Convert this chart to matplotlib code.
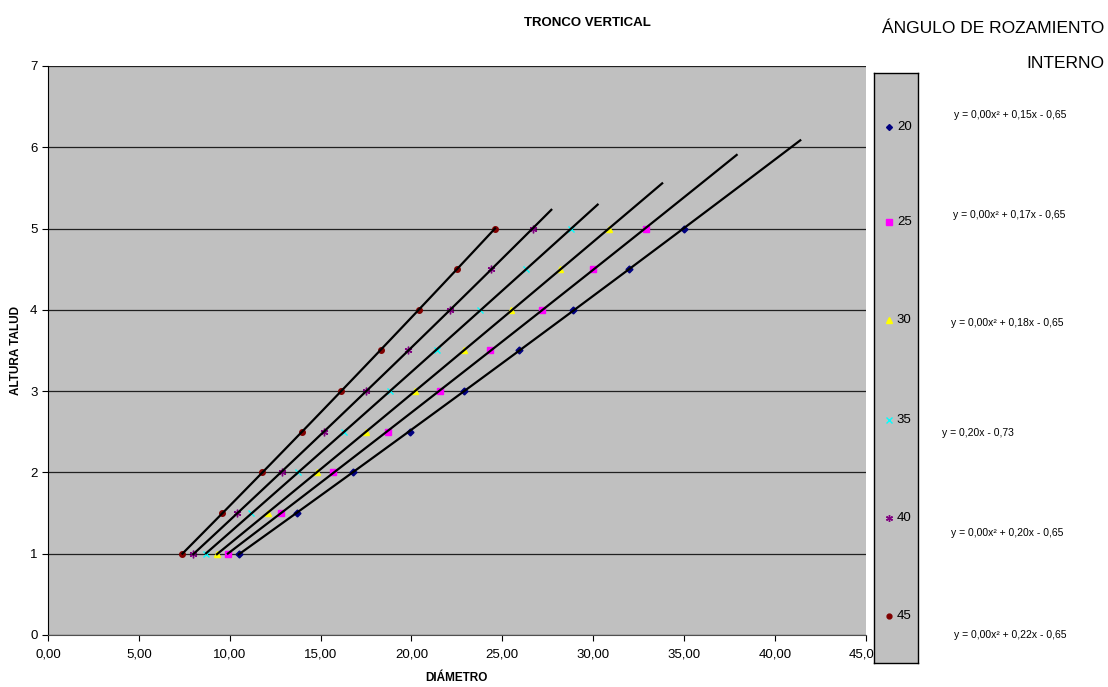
import numpy as np
import matplotlib
matplotlib.use("Agg")
import matplotlib.pyplot as plt

plt.rcParams['font.family'] = ['Liberation Sans', 'DejaVu Sans']

# data
altura = [1.0, 1.5, 2.0, 2.5, 3.0, 3.5, 4.0, 4.5, 5.0]
diam_20 = [10.5, 13.7, 16.8, 19.9, 22.9, 25.9, 28.9, 32.0, 35.0]
diam_25 = [9.9, 12.8, 15.7, 18.7, 21.6, 24.3, 27.2, 30.0, 32.9]
diam_30 = [9.3, 12.1, 14.8, 17.5, 20.2, 22.9, 25.5, 28.2, 30.9]
diam_35 = [8.7, 11.2, 13.75, 16.3, 18.8, 21.4, 23.8, 26.3, 28.8]
diam_40 = [8.0, 10.4, 12.9, 15.2, 17.5, 19.8, 22.1, 24.4, 26.7]
diam_45 = [7.4, 9.6, 11.8, 14.0, 16.1, 18.3, 20.4, 22.5, 24.6]
angulos = ['20', '25', '30', '35', '40', '45']
trend_end = [41.4, 37.9, 33.8, 30.25, 27.7, 24.6]
ecuaciones = ['y = 0,00x² + 0,15x - 0,65',
              'y = 0,00x² + 0,17x - 0,65',
              'y = 0,00x² + 0,18x - 0,65',
              'y = 0,20x - 0,73',
              'y = 0,00x² + 0,20x - 0,65',
              'y = 0,00x² + 0,22x - 0,65']
x_ticks = [0, 5, 10, 15, 20, 25, 30, 35, 40, 45]
x_labels = ['0,00', '5,00', '10,00', '15,00', '20,00', '25,00',
            '30,00', '35,00', '40,00', '45,00']

series = [diam_20, diam_25, diam_30, diam_35, diam_40, diam_45]
colors = ['#000080', '#FF00FF', '#FFFF00', '#00FFFF', '#800080', '#800000']
markers = ['D', 's', '^', 'x', (6, 2, 0), 'o']
msizes = [3.5, 4.5, 4.5, 4.5, 5.5, 4]

fig = plt.figure(figsize=(11.08, 6.87), dpi=100)
ax = fig.add_axes([0.0433, 0.0757, 0.738, 0.8283])
ax.set_facecolor('#C0C0C0')

for i, d in enumerate(series):
    ax.plot(d, altura, linestyle='none', marker=markers[i], color=colors[i],
            markersize=msizes[i], markeredgewidth=1.0, zorder=3)
    coef = np.polyfit(d, altura, 2)
    xs = np.linspace(min(d), trend_end[i], 100)
    ax.plot(xs, np.polyval(coef, xs), color='black', linewidth=1.6, zorder=4)

ax.set_xlim(0, 45)
ax.set_ylim(0, 7)
ax.set_xticks(x_ticks)
ax.set_xticklabels(x_labels)
ax.set_yticks(range(0, 8))
ax.yaxis.grid(True, color='#202020', linewidth=0.9)
ax.set_axisbelow(True)
ax.tick_params(labelsize=9.5, length=4, color='black')
ax.tick_params(axis='x', pad=6)
for s in ['top', 'right']:
    ax.spines[s].set_visible(False)
ax.spines['left'].set_color('black')
ax.spines['bottom'].set_color('#505050')

ax.set_xlabel('DIÁMETRO', fontsize=8.5, fontweight='bold', labelpad=8)
ax.set_ylabel('ALTURA TALUD', fontsize=8.5, fontweight='bold', labelpad=6)
fig.text(0.53, 0.966, 'TRONCO VERTICAL', fontsize=9.5, fontweight='bold',
         ha='center', va='center')
fig.text(0.896, 0.959, 'ÁNGULO DE ROZAMIENTO', fontsize=12.5,
         ha='center', va='center')
fig.text(0.997, 0.908, 'INTERNO', fontsize=12.5, ha='right', va='center')

# legend box
lax = fig.add_axes([0.7888, 0.0349, 0.0397, 0.8588])
lax.set_facecolor('#C0C0C0')
lax.set_xlim(0, 1)
lax.set_ylim(0, 1)
lax.set_xticks([])
lax.set_yticks([])
for s in lax.spines.values():
    s.set_color('black')
    s.set_linewidth(1.0)
ly = [0.908, 0.747, 0.581, 0.412, 0.246, 0.080]
for i in range(6):
    lax.plot([0.34], [ly[i]], linestyle='none', marker=markers[i],
             color=colors[i], markersize=msizes[i] - 0.5, markeredgewidth=1.0)
    lax.text(0.52, ly[i], angulos[i], fontsize=9.5, va='center', ha='left')

eq_y = [0.833, 0.687, 0.530, 0.370, 0.224, 0.076]
eq_x = [0.912, 0.911, 0.909, 0.883, 0.909, 0.912]
for i in range(6):
    fig.text(eq_x[i], eq_y[i], ecuaciones[i], fontsize=7.5,
             ha='center', va='center')

fig.savefig('out.png', dpi=100, facecolor='white')
